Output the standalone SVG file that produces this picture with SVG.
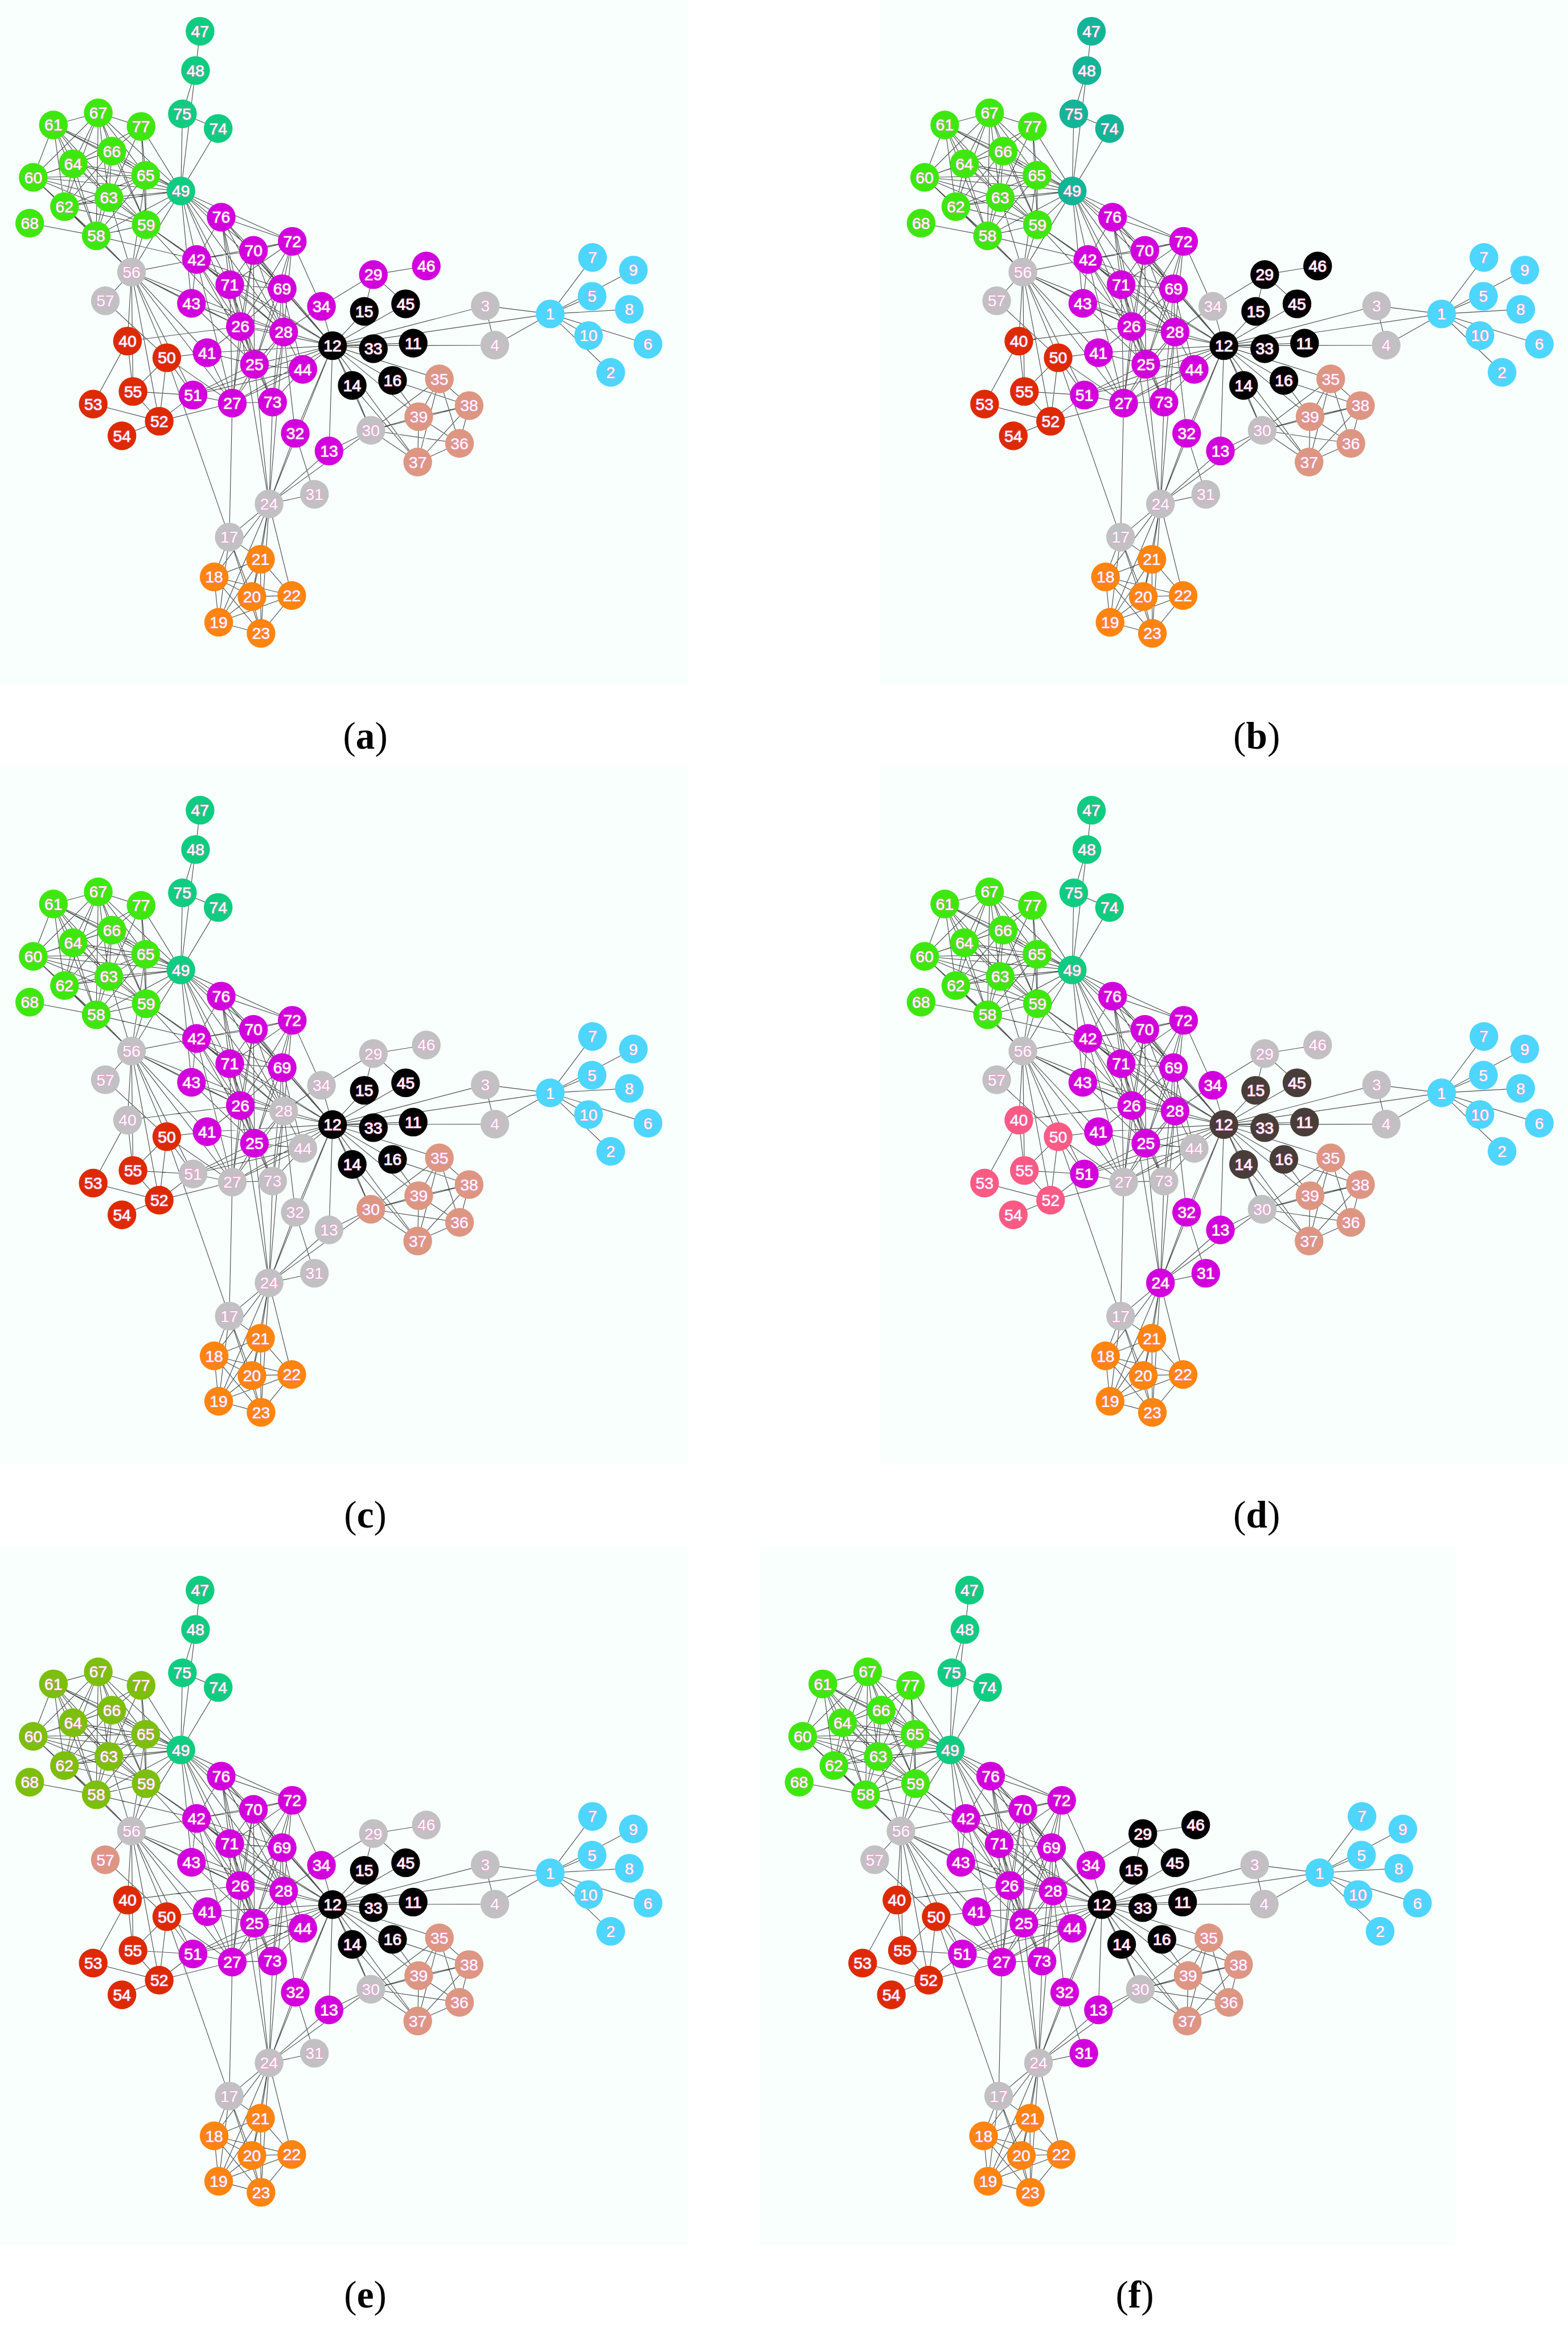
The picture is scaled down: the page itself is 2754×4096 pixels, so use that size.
<svg xmlns="http://www.w3.org/2000/svg" width="2754" height="4096" viewBox="0 0 2754 4096">
<style>
.bg{fill:#f8fffc}
.e{fill:none;stroke:#505050;stroke-width:1.3}
.nodes text{font-family:"Liberation Sans",Arial,sans-serif;font-size:32px;fill:#fff;stroke:#f49ad8;stroke-width:1.8px;paint-order:stroke;text-anchor:middle;dominant-baseline:central}
.lab{font-family:"Liberation Serif","Times New Roman",serif;font-size:76px;fill:#000;text-anchor:middle}
.cy{fill:#4dd6ff}.gn{fill:#3ee80f}.ol{fill:#7cbf0c}.tl{fill:#0fcc80}.td{fill:#13b596}.mg{fill:#d200dc}.bk{fill:#000}.br{fill:#483d38}.gy{fill:#c2c0c2}.rd{fill:#de2a00}.pk{fill:#fb5a84}.or{fill:#ff8410}.sl{fill:#dd9682}
</style>
<defs>
<path id="E" class="e" d="M1092 623L1176 511M1092 623L1175 588M1092 623L1257 536M1092 623L1249 614M1092 623L1168 666M1092 623L1286 683M1092 623L1212 739M1092 623L963 607M1092 623L982 685M1092 623L660 686M963 607L982 685M963 607L660 686M982 685L660 686M660 686L723 618M660 686L805 603M660 686L741 692M660 686L820 681M660 686L699 765M660 686L779 755M723 618L741 545M741 545L805 603M741 545L846 528M741 545L638 608M660 686L872 752M779 755L931 805M779 755L831 827M660 686L831 827M660 686L736 854M699 765L736 854M660 686L829 917M699 765L829 917M660 686L653 895M653 895L736 854M736 854L872 752M736 854L831 827M736 854L931 805M736 854L912 880M736 854L829 917M872 752L831 827M872 752L829 917M872 752L912 880M872 752L931 805M931 805L831 827M931 805L912 880M931 805L829 917M831 827L912 880M831 827L829 917M912 880L829 917M653 895L534 1000M736 854L534 1000M586 860L660 686M586 860L534 1000M586 860L624 981M586 860L563 659M534 1000L660 686M534 1000L624 981M534 1000L455 1066M534 1000L517 1110M534 1000L425 1145M534 1000L434 1235M534 1000L500 1184M534 1000L579 1182M534 1000L518 1257M534 1000L505 723M534 1000L477 648M534 1000L541 798M534 1000L563 659M455 1066L425 1145M455 1066L434 1235M455 1066L500 1184M455 1066L517 1110M455 1066L518 1257M517 1110L425 1145M517 1110L500 1184M517 1110L434 1235M517 1110L579 1182M517 1110L518 1257M425 1145L500 1184M425 1145L579 1182M425 1145L434 1235M425 1145L518 1257M500 1184L579 1182M500 1184L434 1235M500 1184L518 1257M579 1182L434 1235M579 1182L518 1257M434 1235L518 1257M461 800L455 1066M331 710L455 1066M359 379L439 431M359 379L580 479M359 379L503 497M359 379L560 573M359 379L456 565M359 379L390 515M359 379L380 602M359 379L477 648M359 379L563 659M439 431L580 479M439 431L503 497M439 431L456 565M439 431L560 573M439 431L390 515M439 431L477 648M439 431L563 659M439 431L505 723M439 431L660 686M580 479L503 497M580 479L390 515M580 479L456 565M580 479L560 573M580 479L563 659M580 479L477 648M580 479L505 723M580 479L638 608M503 497L390 515M503 497L456 565M503 497L560 573M503 497L563 659M503 497L477 648M503 497L505 723M503 497L660 686M503 497L461 800M390 515L456 565M390 515L560 573M390 515L563 659M390 515L477 648M390 515L380 602M390 515L505 723M390 515L261 540M390 515L191 468M390 515L660 686M390 515L461 800M456 565L560 573M456 565L563 659M456 565L477 648M456 565L505 723M456 565L660 686M456 565L461 800M456 565L541 798M560 573L563 659M560 573L477 648M560 573L505 723M560 573L660 686M560 573L601 733M560 573L541 798M380 602L477 648M380 602L505 723M380 602L563 659M380 602L261 540M477 648L563 659M477 648L505 723M477 648L660 686M477 648L461 800M477 648L411 700M477 648L253 677M477 648L541 798M563 659L660 686M563 659L505 723M563 659L601 733M563 659L541 798M563 659L461 800M563 659L638 608M505 723L660 686M505 723L461 800M505 723L541 798M505 723L601 733M505 723L411 700M505 723L383 784M601 733L660 686M601 733L461 800M601 733L541 798M601 733L383 784M461 800L660 686M461 800L541 798M461 800L383 784M461 800L316 836M461 800L411 700M461 800L261 540M638 608L660 686M411 700L660 686M411 700L331 710M383 784L660 686M383 784L331 710M383 784L264 777M383 784L316 836M383 784L261 540M261 540L209 597M261 540L253 677M261 540L264 777M261 540L331 710M261 540L316 836M261 540L411 700M261 540L477 648M261 540L563 659M253 677L185 802M253 677L264 777M209 597L331 710M331 710L264 777M331 710L316 836M331 710L461 800M264 777L316 836M185 802L316 836M242 865L316 836M397 62L388 140M388 140L362 226M388 140L359 379M362 226L359 379M362 226L433 255M433 255L359 379M106 248L195 224M106 248L66 352M106 248L145 325M106 248L222 300M106 248L128 410M106 248L216 392M106 248L289 348M106 248L359 379M106 248L191 468M106 248L290 446M195 224L280 251M195 224L145 325M195 224L222 300M195 224L66 352M195 224L128 410M195 224L216 392M195 224L289 348M195 224L290 446M195 224L359 379M195 224L191 468M280 251L222 300M280 251L145 325M280 251L289 348M280 251L290 446M280 251L359 379M280 251L216 392M222 300L145 325M222 300L66 352M222 300L289 348M222 300L216 392M222 300L128 410M222 300L290 446M222 300L191 468M222 300L359 379M145 325L66 352M145 325L289 348M145 325L216 392M145 325L128 410M145 325L191 468M145 325L290 446M145 325L359 379M66 352L289 348M66 352L216 392M66 352L128 410M66 352L290 446M66 352L359 379M66 352L191 468M66 352L261 540M289 348L216 392M289 348L359 379M289 348L290 446M289 348L128 410M289 348L191 468M289 348L261 540M216 392L128 410M216 392L290 446M216 392L191 468M216 392L359 379M216 392L261 540M128 410L191 468M128 410L290 446M128 410L359 379M128 410L261 540M59 443L191 468M191 468L290 446M191 468L359 379M191 468L261 540M290 446L359 379M290 446L261 540M290 446L390 515M290 446L456 565M290 446L477 648M359 379L261 540"/>
</defs>
<rect width="2754" height="4096" fill="#fff"/>
<g transform="scale(0.885)">
<g id="panel-a">
<rect class="bg" x="-22" y="-25" width="1388" height="1384"/>
<g id="connectors-a"><use href="#E"/></g>
<g class="nodes">
<g id="a1" class="cy"><circle cx="1092" cy="623" r="28.5"/><text x="1092" y="623">1</text></g>
<g id="a2" class="cy"><circle cx="1212" cy="739" r="28.5"/><text x="1212" y="739">2</text></g>
<g id="a3" class="gy"><circle cx="963" cy="607" r="28.5"/><text x="963" y="607">3</text></g>
<g id="a4" class="gy"><circle cx="982" cy="685" r="28.5"/><text x="982" y="685">4</text></g>
<g id="a5" class="cy"><circle cx="1175" cy="588" r="28.5"/><text x="1175" y="588">5</text></g>
<g id="a6" class="cy"><circle cx="1286" cy="683" r="28.5"/><text x="1286" y="683">6</text></g>
<g id="a7" class="cy"><circle cx="1176" cy="511" r="28.5"/><text x="1176" y="511">7</text></g>
<g id="a8" class="cy"><circle cx="1249" cy="614" r="28.5"/><text x="1249" y="614">8</text></g>
<g id="a9" class="cy"><circle cx="1257" cy="536" r="28.5"/><text x="1257" y="536">9</text></g>
<g id="a10" class="cy"><circle cx="1168" cy="666" r="28.5"/><text x="1168" y="666">10</text></g>
<g id="a11" class="bk"><circle cx="820" cy="681" r="28.5"/><text x="820" y="681">11</text></g>
<g id="a12" class="bk"><circle cx="660" cy="686" r="28.5"/><text x="660" y="686">12</text></g>
<g id="a13" class="mg"><circle cx="653" cy="895" r="28.5"/><text x="653" y="895">13</text></g>
<g id="a14" class="bk"><circle cx="699" cy="765" r="28.5"/><text x="699" y="765">14</text></g>
<g id="a15" class="bk"><circle cx="723" cy="618" r="28.5"/><text x="723" y="618">15</text></g>
<g id="a16" class="bk"><circle cx="779" cy="755" r="28.5"/><text x="779" y="755">16</text></g>
<g id="a17" class="gy"><circle cx="455" cy="1066" r="28.5"/><text x="455" y="1066">17</text></g>
<g id="a18" class="or"><circle cx="425" cy="1145" r="28.5"/><text x="425" y="1145">18</text></g>
<g id="a19" class="or"><circle cx="434" cy="1235" r="28.5"/><text x="434" y="1235">19</text></g>
<g id="a20" class="or"><circle cx="500" cy="1184" r="28.5"/><text x="500" y="1184">20</text></g>
<g id="a21" class="or"><circle cx="517" cy="1110" r="28.5"/><text x="517" y="1110">21</text></g>
<g id="a22" class="or"><circle cx="579" cy="1182" r="28.5"/><text x="579" y="1182">22</text></g>
<g id="a23" class="or"><circle cx="518" cy="1257" r="28.5"/><text x="518" y="1257">23</text></g>
<g id="a24" class="gy"><circle cx="534" cy="1000" r="28.5"/><text x="534" y="1000">24</text></g>
<g id="a25" class="mg"><circle cx="505" cy="723" r="28.5"/><text x="505" y="723">25</text></g>
<g id="a26" class="mg"><circle cx="477" cy="648" r="28.5"/><text x="477" y="648">26</text></g>
<g id="a27" class="mg"><circle cx="461" cy="800" r="28.5"/><text x="461" y="800">27</text></g>
<g id="a28" class="mg"><circle cx="563" cy="659" r="28.5"/><text x="563" y="659">28</text></g>
<g id="a29" class="mg"><circle cx="741" cy="545" r="28.5"/><text x="741" y="545">29</text></g>
<g id="a30" class="gy"><circle cx="736" cy="854" r="28.5"/><text x="736" y="854">30</text></g>
<g id="a31" class="gy"><circle cx="624" cy="981" r="28.5"/><text x="624" y="981">31</text></g>
<g id="a32" class="mg"><circle cx="586" cy="860" r="28.5"/><text x="586" y="860">32</text></g>
<g id="a33" class="bk"><circle cx="741" cy="692" r="28.5"/><text x="741" y="692">33</text></g>
<g id="a34" class="mg"><circle cx="638" cy="608" r="28.5"/><text x="638" y="608">34</text></g>
<g id="a35" class="sl"><circle cx="872" cy="752" r="28.5"/><text x="872" y="752">35</text></g>
<g id="a36" class="sl"><circle cx="912" cy="880" r="28.5"/><text x="912" y="880">36</text></g>
<g id="a37" class="sl"><circle cx="829" cy="917" r="28.5"/><text x="829" y="917">37</text></g>
<g id="a38" class="sl"><circle cx="931" cy="805" r="28.5"/><text x="931" y="805">38</text></g>
<g id="a39" class="sl"><circle cx="831" cy="827" r="28.5"/><text x="831" y="827">39</text></g>
<g id="a40" class="rd"><circle cx="253" cy="677" r="28.5"/><text x="253" y="677">40</text></g>
<g id="a41" class="mg"><circle cx="411" cy="700" r="28.5"/><text x="411" y="700">41</text></g>
<g id="a42" class="mg"><circle cx="390" cy="515" r="28.5"/><text x="390" y="515">42</text></g>
<g id="a43" class="mg"><circle cx="380" cy="602" r="28.5"/><text x="380" y="602">43</text></g>
<g id="a44" class="mg"><circle cx="601" cy="733" r="28.5"/><text x="601" y="733">44</text></g>
<g id="a45" class="bk"><circle cx="805" cy="603" r="28.5"/><text x="805" y="603">45</text></g>
<g id="a46" class="mg"><circle cx="846" cy="528" r="28.5"/><text x="846" y="528">46</text></g>
<g id="a47" class="tl"><circle cx="397" cy="62" r="28.5"/><text x="397" y="62">47</text></g>
<g id="a48" class="tl"><circle cx="388" cy="140" r="28.5"/><text x="388" y="140">48</text></g>
<g id="a49" class="tl"><circle cx="359" cy="379" r="28.5"/><text x="359" y="379">49</text></g>
<g id="a50" class="rd"><circle cx="331" cy="710" r="28.5"/><text x="331" y="710">50</text></g>
<g id="a51" class="mg"><circle cx="383" cy="784" r="28.5"/><text x="383" y="784">51</text></g>
<g id="a52" class="rd"><circle cx="316" cy="836" r="28.5"/><text x="316" y="836">52</text></g>
<g id="a53" class="rd"><circle cx="185" cy="802" r="28.5"/><text x="185" y="802">53</text></g>
<g id="a54" class="rd"><circle cx="242" cy="865" r="28.5"/><text x="242" y="865">54</text></g>
<g id="a55" class="rd"><circle cx="264" cy="777" r="28.5"/><text x="264" y="777">55</text></g>
<g id="a56" class="gy"><circle cx="261" cy="540" r="28.5"/><text x="261" y="540">56</text></g>
<g id="a57" class="gy"><circle cx="209" cy="597" r="28.5"/><text x="209" y="597">57</text></g>
<g id="a58" class="gn"><circle cx="191" cy="468" r="28.5"/><text x="191" y="468">58</text></g>
<g id="a59" class="gn"><circle cx="290" cy="446" r="28.5"/><text x="290" y="446">59</text></g>
<g id="a60" class="gn"><circle cx="66" cy="352" r="28.5"/><text x="66" y="352">60</text></g>
<g id="a61" class="gn"><circle cx="106" cy="248" r="28.5"/><text x="106" y="248">61</text></g>
<g id="a62" class="gn"><circle cx="128" cy="410" r="28.5"/><text x="128" y="410">62</text></g>
<g id="a63" class="gn"><circle cx="216" cy="392" r="28.5"/><text x="216" y="392">63</text></g>
<g id="a64" class="gn"><circle cx="145" cy="325" r="28.5"/><text x="145" y="325">64</text></g>
<g id="a65" class="gn"><circle cx="289" cy="348" r="28.5"/><text x="289" y="348">65</text></g>
<g id="a66" class="gn"><circle cx="222" cy="300" r="28.5"/><text x="222" y="300">66</text></g>
<g id="a67" class="gn"><circle cx="195" cy="224" r="28.5"/><text x="195" y="224">67</text></g>
<g id="a68" class="gn"><circle cx="59" cy="443" r="28.5"/><text x="59" y="443">68</text></g>
<g id="a69" class="mg"><circle cx="560" cy="573" r="28.5"/><text x="560" y="573">69</text></g>
<g id="a70" class="mg"><circle cx="503" cy="497" r="28.5"/><text x="503" y="497">70</text></g>
<g id="a71" class="mg"><circle cx="456" cy="565" r="28.5"/><text x="456" y="565">71</text></g>
<g id="a72" class="mg"><circle cx="580" cy="479" r="28.5"/><text x="580" y="479">72</text></g>
<g id="a73" class="mg"><circle cx="541" cy="798" r="28.5"/><text x="541" y="798">73</text></g>
<g id="a74" class="tl"><circle cx="433" cy="255" r="28.5"/><text x="433" y="255">74</text></g>
<g id="a75" class="tl"><circle cx="362" cy="226" r="28.5"/><text x="362" y="226">75</text></g>
<g id="a76" class="mg"><circle cx="439" cy="431" r="28.5"/><text x="439" y="431">76</text></g>
<g id="a77" class="gn"><circle cx="280" cy="251" r="28.5"/><text x="280" y="251">77</text></g>
</g>
<text class="lab" x="725" y="1486">(<tspan font-weight="bold">a</tspan>)</text>
</g>
<g id="panel-b" transform="translate(1769,0)">
<rect class="bg" x="-22" y="-25" width="1388" height="1384"/>
<g id="connectors-b"><use href="#E"/></g>
<g class="nodes">
<g id="b1" class="cy"><circle cx="1092" cy="623" r="28.5"/><text x="1092" y="623">1</text></g>
<g id="b2" class="cy"><circle cx="1212" cy="739" r="28.5"/><text x="1212" y="739">2</text></g>
<g id="b3" class="gy"><circle cx="963" cy="607" r="28.5"/><text x="963" y="607">3</text></g>
<g id="b4" class="gy"><circle cx="982" cy="685" r="28.5"/><text x="982" y="685">4</text></g>
<g id="b5" class="cy"><circle cx="1175" cy="588" r="28.5"/><text x="1175" y="588">5</text></g>
<g id="b6" class="cy"><circle cx="1286" cy="683" r="28.5"/><text x="1286" y="683">6</text></g>
<g id="b7" class="cy"><circle cx="1176" cy="511" r="28.5"/><text x="1176" y="511">7</text></g>
<g id="b8" class="cy"><circle cx="1249" cy="614" r="28.5"/><text x="1249" y="614">8</text></g>
<g id="b9" class="cy"><circle cx="1257" cy="536" r="28.5"/><text x="1257" y="536">9</text></g>
<g id="b10" class="cy"><circle cx="1168" cy="666" r="28.5"/><text x="1168" y="666">10</text></g>
<g id="b11" class="bk"><circle cx="820" cy="681" r="28.5"/><text x="820" y="681">11</text></g>
<g id="b12" class="bk"><circle cx="660" cy="686" r="28.5"/><text x="660" y="686">12</text></g>
<g id="b13" class="mg"><circle cx="653" cy="895" r="28.5"/><text x="653" y="895">13</text></g>
<g id="b14" class="bk"><circle cx="699" cy="765" r="28.5"/><text x="699" y="765">14</text></g>
<g id="b15" class="bk"><circle cx="723" cy="618" r="28.5"/><text x="723" y="618">15</text></g>
<g id="b16" class="bk"><circle cx="779" cy="755" r="28.5"/><text x="779" y="755">16</text></g>
<g id="b17" class="gy"><circle cx="455" cy="1066" r="28.5"/><text x="455" y="1066">17</text></g>
<g id="b18" class="or"><circle cx="425" cy="1145" r="28.5"/><text x="425" y="1145">18</text></g>
<g id="b19" class="or"><circle cx="434" cy="1235" r="28.5"/><text x="434" y="1235">19</text></g>
<g id="b20" class="or"><circle cx="500" cy="1184" r="28.5"/><text x="500" y="1184">20</text></g>
<g id="b21" class="or"><circle cx="517" cy="1110" r="28.5"/><text x="517" y="1110">21</text></g>
<g id="b22" class="or"><circle cx="579" cy="1182" r="28.5"/><text x="579" y="1182">22</text></g>
<g id="b23" class="or"><circle cx="518" cy="1257" r="28.5"/><text x="518" y="1257">23</text></g>
<g id="b24" class="gy"><circle cx="534" cy="1000" r="28.5"/><text x="534" y="1000">24</text></g>
<g id="b25" class="mg"><circle cx="505" cy="723" r="28.5"/><text x="505" y="723">25</text></g>
<g id="b26" class="mg"><circle cx="477" cy="648" r="28.5"/><text x="477" y="648">26</text></g>
<g id="b27" class="mg"><circle cx="461" cy="800" r="28.5"/><text x="461" y="800">27</text></g>
<g id="b28" class="mg"><circle cx="563" cy="659" r="28.5"/><text x="563" y="659">28</text></g>
<g id="b29" class="bk"><circle cx="741" cy="545" r="28.5"/><text x="741" y="545">29</text></g>
<g id="b30" class="gy"><circle cx="736" cy="854" r="28.5"/><text x="736" y="854">30</text></g>
<g id="b31" class="gy"><circle cx="624" cy="981" r="28.5"/><text x="624" y="981">31</text></g>
<g id="b32" class="mg"><circle cx="586" cy="860" r="28.5"/><text x="586" y="860">32</text></g>
<g id="b33" class="bk"><circle cx="741" cy="692" r="28.5"/><text x="741" y="692">33</text></g>
<g id="b34" class="gy"><circle cx="638" cy="608" r="28.5"/><text x="638" y="608">34</text></g>
<g id="b35" class="sl"><circle cx="872" cy="752" r="28.5"/><text x="872" y="752">35</text></g>
<g id="b36" class="sl"><circle cx="912" cy="880" r="28.5"/><text x="912" y="880">36</text></g>
<g id="b37" class="sl"><circle cx="829" cy="917" r="28.5"/><text x="829" y="917">37</text></g>
<g id="b38" class="sl"><circle cx="931" cy="805" r="28.5"/><text x="931" y="805">38</text></g>
<g id="b39" class="sl"><circle cx="831" cy="827" r="28.5"/><text x="831" y="827">39</text></g>
<g id="b40" class="rd"><circle cx="253" cy="677" r="28.5"/><text x="253" y="677">40</text></g>
<g id="b41" class="mg"><circle cx="411" cy="700" r="28.5"/><text x="411" y="700">41</text></g>
<g id="b42" class="mg"><circle cx="390" cy="515" r="28.5"/><text x="390" y="515">42</text></g>
<g id="b43" class="mg"><circle cx="380" cy="602" r="28.5"/><text x="380" y="602">43</text></g>
<g id="b44" class="mg"><circle cx="601" cy="733" r="28.5"/><text x="601" y="733">44</text></g>
<g id="b45" class="bk"><circle cx="805" cy="603" r="28.5"/><text x="805" y="603">45</text></g>
<g id="b46" class="bk"><circle cx="846" cy="528" r="28.5"/><text x="846" y="528">46</text></g>
<g id="b47" class="td"><circle cx="397" cy="62" r="28.5"/><text x="397" y="62">47</text></g>
<g id="b48" class="td"><circle cx="388" cy="140" r="28.5"/><text x="388" y="140">48</text></g>
<g id="b49" class="td"><circle cx="359" cy="379" r="28.5"/><text x="359" y="379">49</text></g>
<g id="b50" class="rd"><circle cx="331" cy="710" r="28.5"/><text x="331" y="710">50</text></g>
<g id="b51" class="mg"><circle cx="383" cy="784" r="28.5"/><text x="383" y="784">51</text></g>
<g id="b52" class="rd"><circle cx="316" cy="836" r="28.5"/><text x="316" y="836">52</text></g>
<g id="b53" class="rd"><circle cx="185" cy="802" r="28.5"/><text x="185" y="802">53</text></g>
<g id="b54" class="rd"><circle cx="242" cy="865" r="28.5"/><text x="242" y="865">54</text></g>
<g id="b55" class="rd"><circle cx="264" cy="777" r="28.5"/><text x="264" y="777">55</text></g>
<g id="b56" class="gy"><circle cx="261" cy="540" r="28.5"/><text x="261" y="540">56</text></g>
<g id="b57" class="gy"><circle cx="209" cy="597" r="28.5"/><text x="209" y="597">57</text></g>
<g id="b58" class="gn"><circle cx="191" cy="468" r="28.5"/><text x="191" y="468">58</text></g>
<g id="b59" class="gn"><circle cx="290" cy="446" r="28.5"/><text x="290" y="446">59</text></g>
<g id="b60" class="gn"><circle cx="66" cy="352" r="28.5"/><text x="66" y="352">60</text></g>
<g id="b61" class="gn"><circle cx="106" cy="248" r="28.5"/><text x="106" y="248">61</text></g>
<g id="b62" class="gn"><circle cx="128" cy="410" r="28.5"/><text x="128" y="410">62</text></g>
<g id="b63" class="gn"><circle cx="216" cy="392" r="28.5"/><text x="216" y="392">63</text></g>
<g id="b64" class="gn"><circle cx="145" cy="325" r="28.5"/><text x="145" y="325">64</text></g>
<g id="b65" class="gn"><circle cx="289" cy="348" r="28.5"/><text x="289" y="348">65</text></g>
<g id="b66" class="gn"><circle cx="222" cy="300" r="28.5"/><text x="222" y="300">66</text></g>
<g id="b67" class="gn"><circle cx="195" cy="224" r="28.5"/><text x="195" y="224">67</text></g>
<g id="b68" class="gn"><circle cx="59" cy="443" r="28.5"/><text x="59" y="443">68</text></g>
<g id="b69" class="mg"><circle cx="560" cy="573" r="28.5"/><text x="560" y="573">69</text></g>
<g id="b70" class="mg"><circle cx="503" cy="497" r="28.5"/><text x="503" y="497">70</text></g>
<g id="b71" class="mg"><circle cx="456" cy="565" r="28.5"/><text x="456" y="565">71</text></g>
<g id="b72" class="mg"><circle cx="580" cy="479" r="28.5"/><text x="580" y="479">72</text></g>
<g id="b73" class="mg"><circle cx="541" cy="798" r="28.5"/><text x="541" y="798">73</text></g>
<g id="b74" class="td"><circle cx="433" cy="255" r="28.5"/><text x="433" y="255">74</text></g>
<g id="b75" class="td"><circle cx="362" cy="226" r="28.5"/><text x="362" y="226">75</text></g>
<g id="b76" class="mg"><circle cx="439" cy="431" r="28.5"/><text x="439" y="431">76</text></g>
<g id="b77" class="gn"><circle cx="280" cy="251" r="28.5"/><text x="280" y="251">77</text></g>
</g>
<text class="lab" x="725" y="1486">(<tspan font-weight="bold">b</tspan>)</text>
</g>
<g id="panel-c" transform="translate(0,1546)">
<rect class="bg" x="-22" y="-25" width="1388" height="1384"/>
<g id="connectors-c"><use href="#E"/></g>
<g class="nodes">
<g id="c1" class="cy"><circle cx="1092" cy="623" r="28.5"/><text x="1092" y="623">1</text></g>
<g id="c2" class="cy"><circle cx="1212" cy="739" r="28.5"/><text x="1212" y="739">2</text></g>
<g id="c3" class="gy"><circle cx="963" cy="607" r="28.5"/><text x="963" y="607">3</text></g>
<g id="c4" class="gy"><circle cx="982" cy="685" r="28.5"/><text x="982" y="685">4</text></g>
<g id="c5" class="cy"><circle cx="1175" cy="588" r="28.5"/><text x="1175" y="588">5</text></g>
<g id="c6" class="cy"><circle cx="1286" cy="683" r="28.5"/><text x="1286" y="683">6</text></g>
<g id="c7" class="cy"><circle cx="1176" cy="511" r="28.5"/><text x="1176" y="511">7</text></g>
<g id="c8" class="cy"><circle cx="1249" cy="614" r="28.5"/><text x="1249" y="614">8</text></g>
<g id="c9" class="cy"><circle cx="1257" cy="536" r="28.5"/><text x="1257" y="536">9</text></g>
<g id="c10" class="cy"><circle cx="1168" cy="666" r="28.5"/><text x="1168" y="666">10</text></g>
<g id="c11" class="bk"><circle cx="820" cy="681" r="28.5"/><text x="820" y="681">11</text></g>
<g id="c12" class="bk"><circle cx="660" cy="686" r="28.5"/><text x="660" y="686">12</text></g>
<g id="c13" class="gy"><circle cx="653" cy="895" r="28.5"/><text x="653" y="895">13</text></g>
<g id="c14" class="bk"><circle cx="699" cy="765" r="28.5"/><text x="699" y="765">14</text></g>
<g id="c15" class="bk"><circle cx="723" cy="618" r="28.5"/><text x="723" y="618">15</text></g>
<g id="c16" class="bk"><circle cx="779" cy="755" r="28.5"/><text x="779" y="755">16</text></g>
<g id="c17" class="gy"><circle cx="455" cy="1066" r="28.5"/><text x="455" y="1066">17</text></g>
<g id="c18" class="or"><circle cx="425" cy="1145" r="28.5"/><text x="425" y="1145">18</text></g>
<g id="c19" class="or"><circle cx="434" cy="1235" r="28.5"/><text x="434" y="1235">19</text></g>
<g id="c20" class="or"><circle cx="500" cy="1184" r="28.5"/><text x="500" y="1184">20</text></g>
<g id="c21" class="or"><circle cx="517" cy="1110" r="28.5"/><text x="517" y="1110">21</text></g>
<g id="c22" class="or"><circle cx="579" cy="1182" r="28.5"/><text x="579" y="1182">22</text></g>
<g id="c23" class="or"><circle cx="518" cy="1257" r="28.5"/><text x="518" y="1257">23</text></g>
<g id="c24" class="gy"><circle cx="534" cy="1000" r="28.5"/><text x="534" y="1000">24</text></g>
<g id="c25" class="mg"><circle cx="505" cy="723" r="28.5"/><text x="505" y="723">25</text></g>
<g id="c26" class="mg"><circle cx="477" cy="648" r="28.5"/><text x="477" y="648">26</text></g>
<g id="c27" class="gy"><circle cx="461" cy="800" r="28.5"/><text x="461" y="800">27</text></g>
<g id="c28" class="gy"><circle cx="563" cy="659" r="28.5"/><text x="563" y="659">28</text></g>
<g id="c29" class="gy"><circle cx="741" cy="545" r="28.5"/><text x="741" y="545">29</text></g>
<g id="c30" class="sl"><circle cx="736" cy="854" r="28.5"/><text x="736" y="854">30</text></g>
<g id="c31" class="gy"><circle cx="624" cy="981" r="28.5"/><text x="624" y="981">31</text></g>
<g id="c32" class="gy"><circle cx="586" cy="860" r="28.5"/><text x="586" y="860">32</text></g>
<g id="c33" class="bk"><circle cx="741" cy="692" r="28.5"/><text x="741" y="692">33</text></g>
<g id="c34" class="gy"><circle cx="638" cy="608" r="28.5"/><text x="638" y="608">34</text></g>
<g id="c35" class="sl"><circle cx="872" cy="752" r="28.5"/><text x="872" y="752">35</text></g>
<g id="c36" class="sl"><circle cx="912" cy="880" r="28.5"/><text x="912" y="880">36</text></g>
<g id="c37" class="sl"><circle cx="829" cy="917" r="28.5"/><text x="829" y="917">37</text></g>
<g id="c38" class="sl"><circle cx="931" cy="805" r="28.5"/><text x="931" y="805">38</text></g>
<g id="c39" class="sl"><circle cx="831" cy="827" r="28.5"/><text x="831" y="827">39</text></g>
<g id="c40" class="gy"><circle cx="253" cy="677" r="28.5"/><text x="253" y="677">40</text></g>
<g id="c41" class="mg"><circle cx="411" cy="700" r="28.5"/><text x="411" y="700">41</text></g>
<g id="c42" class="mg"><circle cx="390" cy="515" r="28.5"/><text x="390" y="515">42</text></g>
<g id="c43" class="mg"><circle cx="380" cy="602" r="28.5"/><text x="380" y="602">43</text></g>
<g id="c44" class="gy"><circle cx="601" cy="733" r="28.5"/><text x="601" y="733">44</text></g>
<g id="c45" class="bk"><circle cx="805" cy="603" r="28.5"/><text x="805" y="603">45</text></g>
<g id="c46" class="gy"><circle cx="846" cy="528" r="28.5"/><text x="846" y="528">46</text></g>
<g id="c47" class="tl"><circle cx="397" cy="62" r="28.5"/><text x="397" y="62">47</text></g>
<g id="c48" class="tl"><circle cx="388" cy="140" r="28.5"/><text x="388" y="140">48</text></g>
<g id="c49" class="tl"><circle cx="359" cy="379" r="28.5"/><text x="359" y="379">49</text></g>
<g id="c50" class="rd"><circle cx="331" cy="710" r="28.5"/><text x="331" y="710">50</text></g>
<g id="c51" class="gy"><circle cx="383" cy="784" r="28.5"/><text x="383" y="784">51</text></g>
<g id="c52" class="rd"><circle cx="316" cy="836" r="28.5"/><text x="316" y="836">52</text></g>
<g id="c53" class="rd"><circle cx="185" cy="802" r="28.5"/><text x="185" y="802">53</text></g>
<g id="c54" class="rd"><circle cx="242" cy="865" r="28.5"/><text x="242" y="865">54</text></g>
<g id="c55" class="rd"><circle cx="264" cy="777" r="28.5"/><text x="264" y="777">55</text></g>
<g id="c56" class="gy"><circle cx="261" cy="540" r="28.5"/><text x="261" y="540">56</text></g>
<g id="c57" class="gy"><circle cx="209" cy="597" r="28.5"/><text x="209" y="597">57</text></g>
<g id="c58" class="gn"><circle cx="191" cy="468" r="28.5"/><text x="191" y="468">58</text></g>
<g id="c59" class="gn"><circle cx="290" cy="446" r="28.5"/><text x="290" y="446">59</text></g>
<g id="c60" class="gn"><circle cx="66" cy="352" r="28.5"/><text x="66" y="352">60</text></g>
<g id="c61" class="gn"><circle cx="106" cy="248" r="28.5"/><text x="106" y="248">61</text></g>
<g id="c62" class="gn"><circle cx="128" cy="410" r="28.5"/><text x="128" y="410">62</text></g>
<g id="c63" class="gn"><circle cx="216" cy="392" r="28.5"/><text x="216" y="392">63</text></g>
<g id="c64" class="gn"><circle cx="145" cy="325" r="28.5"/><text x="145" y="325">64</text></g>
<g id="c65" class="gn"><circle cx="289" cy="348" r="28.5"/><text x="289" y="348">65</text></g>
<g id="c66" class="gn"><circle cx="222" cy="300" r="28.5"/><text x="222" y="300">66</text></g>
<g id="c67" class="gn"><circle cx="195" cy="224" r="28.5"/><text x="195" y="224">67</text></g>
<g id="c68" class="gn"><circle cx="59" cy="443" r="28.5"/><text x="59" y="443">68</text></g>
<g id="c69" class="mg"><circle cx="560" cy="573" r="28.5"/><text x="560" y="573">69</text></g>
<g id="c70" class="mg"><circle cx="503" cy="497" r="28.5"/><text x="503" y="497">70</text></g>
<g id="c71" class="mg"><circle cx="456" cy="565" r="28.5"/><text x="456" y="565">71</text></g>
<g id="c72" class="mg"><circle cx="580" cy="479" r="28.5"/><text x="580" y="479">72</text></g>
<g id="c73" class="gy"><circle cx="541" cy="798" r="28.5"/><text x="541" y="798">73</text></g>
<g id="c74" class="tl"><circle cx="433" cy="255" r="28.5"/><text x="433" y="255">74</text></g>
<g id="c75" class="tl"><circle cx="362" cy="226" r="28.5"/><text x="362" y="226">75</text></g>
<g id="c76" class="mg"><circle cx="439" cy="431" r="28.5"/><text x="439" y="431">76</text></g>
<g id="c77" class="gn"><circle cx="280" cy="251" r="28.5"/><text x="280" y="251">77</text></g>
</g>
<text class="lab" x="725" y="1486">(<tspan font-weight="bold">c</tspan>)</text>
</g>
<g id="panel-d" transform="translate(1769,1546)">
<rect class="bg" x="-22" y="-25" width="1388" height="1384"/>
<g id="connectors-d"><use href="#E"/></g>
<g class="nodes">
<g id="d1" class="cy"><circle cx="1092" cy="623" r="28.5"/><text x="1092" y="623">1</text></g>
<g id="d2" class="cy"><circle cx="1212" cy="739" r="28.5"/><text x="1212" y="739">2</text></g>
<g id="d3" class="gy"><circle cx="963" cy="607" r="28.5"/><text x="963" y="607">3</text></g>
<g id="d4" class="gy"><circle cx="982" cy="685" r="28.5"/><text x="982" y="685">4</text></g>
<g id="d5" class="cy"><circle cx="1175" cy="588" r="28.5"/><text x="1175" y="588">5</text></g>
<g id="d6" class="cy"><circle cx="1286" cy="683" r="28.5"/><text x="1286" y="683">6</text></g>
<g id="d7" class="cy"><circle cx="1176" cy="511" r="28.5"/><text x="1176" y="511">7</text></g>
<g id="d8" class="cy"><circle cx="1249" cy="614" r="28.5"/><text x="1249" y="614">8</text></g>
<g id="d9" class="cy"><circle cx="1257" cy="536" r="28.5"/><text x="1257" y="536">9</text></g>
<g id="d10" class="cy"><circle cx="1168" cy="666" r="28.5"/><text x="1168" y="666">10</text></g>
<g id="d11" class="br"><circle cx="820" cy="681" r="28.5"/><text x="820" y="681">11</text></g>
<g id="d12" class="br"><circle cx="660" cy="686" r="28.5"/><text x="660" y="686">12</text></g>
<g id="d13" class="mg"><circle cx="653" cy="895" r="28.5"/><text x="653" y="895">13</text></g>
<g id="d14" class="br"><circle cx="699" cy="765" r="28.5"/><text x="699" y="765">14</text></g>
<g id="d15" class="br"><circle cx="723" cy="618" r="28.5"/><text x="723" y="618">15</text></g>
<g id="d16" class="br"><circle cx="779" cy="755" r="28.5"/><text x="779" y="755">16</text></g>
<g id="d17" class="gy"><circle cx="455" cy="1066" r="28.5"/><text x="455" y="1066">17</text></g>
<g id="d18" class="or"><circle cx="425" cy="1145" r="28.5"/><text x="425" y="1145">18</text></g>
<g id="d19" class="or"><circle cx="434" cy="1235" r="28.5"/><text x="434" y="1235">19</text></g>
<g id="d20" class="or"><circle cx="500" cy="1184" r="28.5"/><text x="500" y="1184">20</text></g>
<g id="d21" class="or"><circle cx="517" cy="1110" r="28.5"/><text x="517" y="1110">21</text></g>
<g id="d22" class="or"><circle cx="579" cy="1182" r="28.5"/><text x="579" y="1182">22</text></g>
<g id="d23" class="or"><circle cx="518" cy="1257" r="28.5"/><text x="518" y="1257">23</text></g>
<g id="d24" class="mg"><circle cx="534" cy="1000" r="28.5"/><text x="534" y="1000">24</text></g>
<g id="d25" class="mg"><circle cx="505" cy="723" r="28.5"/><text x="505" y="723">25</text></g>
<g id="d26" class="mg"><circle cx="477" cy="648" r="28.5"/><text x="477" y="648">26</text></g>
<g id="d27" class="gy"><circle cx="461" cy="800" r="28.5"/><text x="461" y="800">27</text></g>
<g id="d28" class="mg"><circle cx="563" cy="659" r="28.5"/><text x="563" y="659">28</text></g>
<g id="d29" class="gy"><circle cx="741" cy="545" r="28.5"/><text x="741" y="545">29</text></g>
<g id="d30" class="gy"><circle cx="736" cy="854" r="28.5"/><text x="736" y="854">30</text></g>
<g id="d31" class="mg"><circle cx="624" cy="981" r="28.5"/><text x="624" y="981">31</text></g>
<g id="d32" class="mg"><circle cx="586" cy="860" r="28.5"/><text x="586" y="860">32</text></g>
<g id="d33" class="br"><circle cx="741" cy="692" r="28.5"/><text x="741" y="692">33</text></g>
<g id="d34" class="mg"><circle cx="638" cy="608" r="28.5"/><text x="638" y="608">34</text></g>
<g id="d35" class="sl"><circle cx="872" cy="752" r="28.5"/><text x="872" y="752">35</text></g>
<g id="d36" class="sl"><circle cx="912" cy="880" r="28.5"/><text x="912" y="880">36</text></g>
<g id="d37" class="sl"><circle cx="829" cy="917" r="28.5"/><text x="829" y="917">37</text></g>
<g id="d38" class="sl"><circle cx="931" cy="805" r="28.5"/><text x="931" y="805">38</text></g>
<g id="d39" class="sl"><circle cx="831" cy="827" r="28.5"/><text x="831" y="827">39</text></g>
<g id="d40" class="pk"><circle cx="253" cy="677" r="28.5"/><text x="253" y="677">40</text></g>
<g id="d41" class="mg"><circle cx="411" cy="700" r="28.5"/><text x="411" y="700">41</text></g>
<g id="d42" class="mg"><circle cx="390" cy="515" r="28.5"/><text x="390" y="515">42</text></g>
<g id="d43" class="mg"><circle cx="380" cy="602" r="28.5"/><text x="380" y="602">43</text></g>
<g id="d44" class="gy"><circle cx="601" cy="733" r="28.5"/><text x="601" y="733">44</text></g>
<g id="d45" class="br"><circle cx="805" cy="603" r="28.5"/><text x="805" y="603">45</text></g>
<g id="d46" class="gy"><circle cx="846" cy="528" r="28.5"/><text x="846" y="528">46</text></g>
<g id="d47" class="tl"><circle cx="397" cy="62" r="28.5"/><text x="397" y="62">47</text></g>
<g id="d48" class="tl"><circle cx="388" cy="140" r="28.5"/><text x="388" y="140">48</text></g>
<g id="d49" class="tl"><circle cx="359" cy="379" r="28.5"/><text x="359" y="379">49</text></g>
<g id="d50" class="pk"><circle cx="331" cy="710" r="28.5"/><text x="331" y="710">50</text></g>
<g id="d51" class="mg"><circle cx="383" cy="784" r="28.5"/><text x="383" y="784">51</text></g>
<g id="d52" class="pk"><circle cx="316" cy="836" r="28.5"/><text x="316" y="836">52</text></g>
<g id="d53" class="pk"><circle cx="185" cy="802" r="28.5"/><text x="185" y="802">53</text></g>
<g id="d54" class="pk"><circle cx="242" cy="865" r="28.5"/><text x="242" y="865">54</text></g>
<g id="d55" class="pk"><circle cx="264" cy="777" r="28.5"/><text x="264" y="777">55</text></g>
<g id="d56" class="gy"><circle cx="261" cy="540" r="28.5"/><text x="261" y="540">56</text></g>
<g id="d57" class="gy"><circle cx="209" cy="597" r="28.5"/><text x="209" y="597">57</text></g>
<g id="d58" class="gn"><circle cx="191" cy="468" r="28.5"/><text x="191" y="468">58</text></g>
<g id="d59" class="gn"><circle cx="290" cy="446" r="28.5"/><text x="290" y="446">59</text></g>
<g id="d60" class="gn"><circle cx="66" cy="352" r="28.5"/><text x="66" y="352">60</text></g>
<g id="d61" class="gn"><circle cx="106" cy="248" r="28.5"/><text x="106" y="248">61</text></g>
<g id="d62" class="gn"><circle cx="128" cy="410" r="28.5"/><text x="128" y="410">62</text></g>
<g id="d63" class="gn"><circle cx="216" cy="392" r="28.5"/><text x="216" y="392">63</text></g>
<g id="d64" class="gn"><circle cx="145" cy="325" r="28.5"/><text x="145" y="325">64</text></g>
<g id="d65" class="gn"><circle cx="289" cy="348" r="28.5"/><text x="289" y="348">65</text></g>
<g id="d66" class="gn"><circle cx="222" cy="300" r="28.5"/><text x="222" y="300">66</text></g>
<g id="d67" class="gn"><circle cx="195" cy="224" r="28.5"/><text x="195" y="224">67</text></g>
<g id="d68" class="gn"><circle cx="59" cy="443" r="28.5"/><text x="59" y="443">68</text></g>
<g id="d69" class="mg"><circle cx="560" cy="573" r="28.5"/><text x="560" y="573">69</text></g>
<g id="d70" class="mg"><circle cx="503" cy="497" r="28.5"/><text x="503" y="497">70</text></g>
<g id="d71" class="mg"><circle cx="456" cy="565" r="28.5"/><text x="456" y="565">71</text></g>
<g id="d72" class="mg"><circle cx="580" cy="479" r="28.5"/><text x="580" y="479">72</text></g>
<g id="d73" class="gy"><circle cx="541" cy="798" r="28.5"/><text x="541" y="798">73</text></g>
<g id="d74" class="tl"><circle cx="433" cy="255" r="28.5"/><text x="433" y="255">74</text></g>
<g id="d75" class="tl"><circle cx="362" cy="226" r="28.5"/><text x="362" y="226">75</text></g>
<g id="d76" class="mg"><circle cx="439" cy="431" r="28.5"/><text x="439" y="431">76</text></g>
<g id="d77" class="gn"><circle cx="280" cy="251" r="28.5"/><text x="280" y="251">77</text></g>
</g>
<text class="lab" x="725" y="1486">(<tspan font-weight="bold">d</tspan>)</text>
</g>
<g id="panel-e" transform="translate(0,3094)">
<rect class="bg" x="-22" y="-25" width="1388" height="1387"/>
<g id="connectors-e"><use href="#E"/></g>
<g class="nodes">
<g id="e1" class="cy"><circle cx="1092" cy="623" r="28.5"/><text x="1092" y="623">1</text></g>
<g id="e2" class="cy"><circle cx="1212" cy="739" r="28.5"/><text x="1212" y="739">2</text></g>
<g id="e3" class="gy"><circle cx="963" cy="607" r="28.5"/><text x="963" y="607">3</text></g>
<g id="e4" class="gy"><circle cx="982" cy="685" r="28.5"/><text x="982" y="685">4</text></g>
<g id="e5" class="cy"><circle cx="1175" cy="588" r="28.5"/><text x="1175" y="588">5</text></g>
<g id="e6" class="cy"><circle cx="1286" cy="683" r="28.5"/><text x="1286" y="683">6</text></g>
<g id="e7" class="cy"><circle cx="1176" cy="511" r="28.5"/><text x="1176" y="511">7</text></g>
<g id="e8" class="cy"><circle cx="1249" cy="614" r="28.5"/><text x="1249" y="614">8</text></g>
<g id="e9" class="cy"><circle cx="1257" cy="536" r="28.5"/><text x="1257" y="536">9</text></g>
<g id="e10" class="cy"><circle cx="1168" cy="666" r="28.5"/><text x="1168" y="666">10</text></g>
<g id="e11" class="bk"><circle cx="820" cy="681" r="28.5"/><text x="820" y="681">11</text></g>
<g id="e12" class="bk"><circle cx="660" cy="686" r="28.5"/><text x="660" y="686">12</text></g>
<g id="e13" class="mg"><circle cx="653" cy="895" r="28.5"/><text x="653" y="895">13</text></g>
<g id="e14" class="bk"><circle cx="699" cy="765" r="28.5"/><text x="699" y="765">14</text></g>
<g id="e15" class="bk"><circle cx="723" cy="618" r="28.5"/><text x="723" y="618">15</text></g>
<g id="e16" class="bk"><circle cx="779" cy="755" r="28.5"/><text x="779" y="755">16</text></g>
<g id="e17" class="gy"><circle cx="455" cy="1066" r="28.5"/><text x="455" y="1066">17</text></g>
<g id="e18" class="or"><circle cx="425" cy="1145" r="28.5"/><text x="425" y="1145">18</text></g>
<g id="e19" class="or"><circle cx="434" cy="1235" r="28.5"/><text x="434" y="1235">19</text></g>
<g id="e20" class="or"><circle cx="500" cy="1184" r="28.5"/><text x="500" y="1184">20</text></g>
<g id="e21" class="or"><circle cx="517" cy="1110" r="28.5"/><text x="517" y="1110">21</text></g>
<g id="e22" class="or"><circle cx="579" cy="1182" r="28.5"/><text x="579" y="1182">22</text></g>
<g id="e23" class="or"><circle cx="518" cy="1257" r="28.5"/><text x="518" y="1257">23</text></g>
<g id="e24" class="gy"><circle cx="534" cy="1000" r="28.5"/><text x="534" y="1000">24</text></g>
<g id="e25" class="mg"><circle cx="505" cy="723" r="28.5"/><text x="505" y="723">25</text></g>
<g id="e26" class="mg"><circle cx="477" cy="648" r="28.5"/><text x="477" y="648">26</text></g>
<g id="e27" class="mg"><circle cx="461" cy="800" r="28.5"/><text x="461" y="800">27</text></g>
<g id="e28" class="mg"><circle cx="563" cy="659" r="28.5"/><text x="563" y="659">28</text></g>
<g id="e29" class="gy"><circle cx="741" cy="545" r="28.5"/><text x="741" y="545">29</text></g>
<g id="e30" class="gy"><circle cx="736" cy="854" r="28.5"/><text x="736" y="854">30</text></g>
<g id="e31" class="gy"><circle cx="624" cy="981" r="28.5"/><text x="624" y="981">31</text></g>
<g id="e32" class="mg"><circle cx="586" cy="860" r="28.5"/><text x="586" y="860">32</text></g>
<g id="e33" class="bk"><circle cx="741" cy="692" r="28.5"/><text x="741" y="692">33</text></g>
<g id="e34" class="mg"><circle cx="638" cy="608" r="28.5"/><text x="638" y="608">34</text></g>
<g id="e35" class="sl"><circle cx="872" cy="752" r="28.5"/><text x="872" y="752">35</text></g>
<g id="e36" class="sl"><circle cx="912" cy="880" r="28.5"/><text x="912" y="880">36</text></g>
<g id="e37" class="sl"><circle cx="829" cy="917" r="28.5"/><text x="829" y="917">37</text></g>
<g id="e38" class="sl"><circle cx="931" cy="805" r="28.5"/><text x="931" y="805">38</text></g>
<g id="e39" class="sl"><circle cx="831" cy="827" r="28.5"/><text x="831" y="827">39</text></g>
<g id="e40" class="rd"><circle cx="253" cy="677" r="28.5"/><text x="253" y="677">40</text></g>
<g id="e41" class="mg"><circle cx="411" cy="700" r="28.5"/><text x="411" y="700">41</text></g>
<g id="e42" class="mg"><circle cx="390" cy="515" r="28.5"/><text x="390" y="515">42</text></g>
<g id="e43" class="mg"><circle cx="380" cy="602" r="28.5"/><text x="380" y="602">43</text></g>
<g id="e44" class="mg"><circle cx="601" cy="733" r="28.5"/><text x="601" y="733">44</text></g>
<g id="e45" class="bk"><circle cx="805" cy="603" r="28.5"/><text x="805" y="603">45</text></g>
<g id="e46" class="gy"><circle cx="846" cy="528" r="28.5"/><text x="846" y="528">46</text></g>
<g id="e47" class="tl"><circle cx="397" cy="62" r="28.5"/><text x="397" y="62">47</text></g>
<g id="e48" class="tl"><circle cx="388" cy="140" r="28.5"/><text x="388" y="140">48</text></g>
<g id="e49" class="tl"><circle cx="359" cy="379" r="28.5"/><text x="359" y="379">49</text></g>
<g id="e50" class="rd"><circle cx="331" cy="710" r="28.5"/><text x="331" y="710">50</text></g>
<g id="e51" class="mg"><circle cx="383" cy="784" r="28.5"/><text x="383" y="784">51</text></g>
<g id="e52" class="rd"><circle cx="316" cy="836" r="28.5"/><text x="316" y="836">52</text></g>
<g id="e53" class="rd"><circle cx="185" cy="802" r="28.5"/><text x="185" y="802">53</text></g>
<g id="e54" class="rd"><circle cx="242" cy="865" r="28.5"/><text x="242" y="865">54</text></g>
<g id="e55" class="rd"><circle cx="264" cy="777" r="28.5"/><text x="264" y="777">55</text></g>
<g id="e56" class="gy"><circle cx="261" cy="540" r="28.5"/><text x="261" y="540">56</text></g>
<g id="e57" class="sl"><circle cx="209" cy="597" r="28.5"/><text x="209" y="597">57</text></g>
<g id="e58" class="ol"><circle cx="191" cy="468" r="28.5"/><text x="191" y="468">58</text></g>
<g id="e59" class="ol"><circle cx="290" cy="446" r="28.5"/><text x="290" y="446">59</text></g>
<g id="e60" class="ol"><circle cx="66" cy="352" r="28.5"/><text x="66" y="352">60</text></g>
<g id="e61" class="ol"><circle cx="106" cy="248" r="28.5"/><text x="106" y="248">61</text></g>
<g id="e62" class="ol"><circle cx="128" cy="410" r="28.5"/><text x="128" y="410">62</text></g>
<g id="e63" class="ol"><circle cx="216" cy="392" r="28.5"/><text x="216" y="392">63</text></g>
<g id="e64" class="ol"><circle cx="145" cy="325" r="28.5"/><text x="145" y="325">64</text></g>
<g id="e65" class="ol"><circle cx="289" cy="348" r="28.5"/><text x="289" y="348">65</text></g>
<g id="e66" class="ol"><circle cx="222" cy="300" r="28.5"/><text x="222" y="300">66</text></g>
<g id="e67" class="ol"><circle cx="195" cy="224" r="28.5"/><text x="195" y="224">67</text></g>
<g id="e68" class="ol"><circle cx="59" cy="443" r="28.5"/><text x="59" y="443">68</text></g>
<g id="e69" class="mg"><circle cx="560" cy="573" r="28.5"/><text x="560" y="573">69</text></g>
<g id="e70" class="mg"><circle cx="503" cy="497" r="28.5"/><text x="503" y="497">70</text></g>
<g id="e71" class="mg"><circle cx="456" cy="565" r="28.5"/><text x="456" y="565">71</text></g>
<g id="e72" class="mg"><circle cx="580" cy="479" r="28.5"/><text x="580" y="479">72</text></g>
<g id="e73" class="mg"><circle cx="541" cy="798" r="28.5"/><text x="541" y="798">73</text></g>
<g id="e74" class="tl"><circle cx="433" cy="255" r="28.5"/><text x="433" y="255">74</text></g>
<g id="e75" class="tl"><circle cx="362" cy="226" r="28.5"/><text x="362" y="226">75</text></g>
<g id="e76" class="mg"><circle cx="439" cy="431" r="28.5"/><text x="439" y="431">76</text></g>
<g id="e77" class="ol"><circle cx="280" cy="251" r="28.5"/><text x="280" y="251">77</text></g>
</g>
<text class="lab" x="725" y="1486">(<tspan font-weight="bold">e</tspan>)</text>
</g>
<g id="panel-f" transform="translate(1527,3094)">
<rect class="bg" x="-20" y="-25" width="1381" height="1387"/>
<g id="connectors-f"><use href="#E"/></g>
<g class="nodes">
<g id="f1" class="cy"><circle cx="1092" cy="623" r="28.5"/><text x="1092" y="623">1</text></g>
<g id="f2" class="cy"><circle cx="1212" cy="739" r="28.5"/><text x="1212" y="739">2</text></g>
<g id="f3" class="gy"><circle cx="963" cy="607" r="28.5"/><text x="963" y="607">3</text></g>
<g id="f4" class="gy"><circle cx="982" cy="685" r="28.5"/><text x="982" y="685">4</text></g>
<g id="f5" class="cy"><circle cx="1175" cy="588" r="28.5"/><text x="1175" y="588">5</text></g>
<g id="f6" class="cy"><circle cx="1286" cy="683" r="28.5"/><text x="1286" y="683">6</text></g>
<g id="f7" class="cy"><circle cx="1176" cy="511" r="28.5"/><text x="1176" y="511">7</text></g>
<g id="f8" class="cy"><circle cx="1249" cy="614" r="28.5"/><text x="1249" y="614">8</text></g>
<g id="f9" class="cy"><circle cx="1257" cy="536" r="28.5"/><text x="1257" y="536">9</text></g>
<g id="f10" class="cy"><circle cx="1168" cy="666" r="28.5"/><text x="1168" y="666">10</text></g>
<g id="f11" class="bk"><circle cx="820" cy="681" r="28.5"/><text x="820" y="681">11</text></g>
<g id="f12" class="bk"><circle cx="660" cy="686" r="28.5"/><text x="660" y="686">12</text></g>
<g id="f13" class="mg"><circle cx="653" cy="895" r="28.5"/><text x="653" y="895">13</text></g>
<g id="f14" class="bk"><circle cx="699" cy="765" r="28.5"/><text x="699" y="765">14</text></g>
<g id="f15" class="bk"><circle cx="723" cy="618" r="28.5"/><text x="723" y="618">15</text></g>
<g id="f16" class="bk"><circle cx="779" cy="755" r="28.5"/><text x="779" y="755">16</text></g>
<g id="f17" class="gy"><circle cx="455" cy="1066" r="28.5"/><text x="455" y="1066">17</text></g>
<g id="f18" class="or"><circle cx="425" cy="1145" r="28.5"/><text x="425" y="1145">18</text></g>
<g id="f19" class="or"><circle cx="434" cy="1235" r="28.5"/><text x="434" y="1235">19</text></g>
<g id="f20" class="or"><circle cx="500" cy="1184" r="28.5"/><text x="500" y="1184">20</text></g>
<g id="f21" class="or"><circle cx="517" cy="1110" r="28.5"/><text x="517" y="1110">21</text></g>
<g id="f22" class="or"><circle cx="579" cy="1182" r="28.5"/><text x="579" y="1182">22</text></g>
<g id="f23" class="or"><circle cx="518" cy="1257" r="28.5"/><text x="518" y="1257">23</text></g>
<g id="f24" class="gy"><circle cx="534" cy="1000" r="28.5"/><text x="534" y="1000">24</text></g>
<g id="f25" class="mg"><circle cx="505" cy="723" r="28.5"/><text x="505" y="723">25</text></g>
<g id="f26" class="mg"><circle cx="477" cy="648" r="28.5"/><text x="477" y="648">26</text></g>
<g id="f27" class="mg"><circle cx="461" cy="800" r="28.5"/><text x="461" y="800">27</text></g>
<g id="f28" class="mg"><circle cx="563" cy="659" r="28.5"/><text x="563" y="659">28</text></g>
<g id="f29" class="bk"><circle cx="741" cy="545" r="28.5"/><text x="741" y="545">29</text></g>
<g id="f30" class="gy"><circle cx="736" cy="854" r="28.5"/><text x="736" y="854">30</text></g>
<g id="f31" class="mg"><circle cx="624" cy="981" r="28.5"/><text x="624" y="981">31</text></g>
<g id="f32" class="mg"><circle cx="586" cy="860" r="28.5"/><text x="586" y="860">32</text></g>
<g id="f33" class="bk"><circle cx="741" cy="692" r="28.5"/><text x="741" y="692">33</text></g>
<g id="f34" class="mg"><circle cx="638" cy="608" r="28.5"/><text x="638" y="608">34</text></g>
<g id="f35" class="sl"><circle cx="872" cy="752" r="28.5"/><text x="872" y="752">35</text></g>
<g id="f36" class="sl"><circle cx="912" cy="880" r="28.5"/><text x="912" y="880">36</text></g>
<g id="f37" class="sl"><circle cx="829" cy="917" r="28.5"/><text x="829" y="917">37</text></g>
<g id="f38" class="sl"><circle cx="931" cy="805" r="28.5"/><text x="931" y="805">38</text></g>
<g id="f39" class="sl"><circle cx="831" cy="827" r="28.5"/><text x="831" y="827">39</text></g>
<g id="f40" class="rd"><circle cx="253" cy="677" r="28.5"/><text x="253" y="677">40</text></g>
<g id="f41" class="mg"><circle cx="411" cy="700" r="28.5"/><text x="411" y="700">41</text></g>
<g id="f42" class="mg"><circle cx="390" cy="515" r="28.5"/><text x="390" y="515">42</text></g>
<g id="f43" class="mg"><circle cx="380" cy="602" r="28.5"/><text x="380" y="602">43</text></g>
<g id="f44" class="mg"><circle cx="601" cy="733" r="28.5"/><text x="601" y="733">44</text></g>
<g id="f45" class="bk"><circle cx="805" cy="603" r="28.5"/><text x="805" y="603">45</text></g>
<g id="f46" class="bk"><circle cx="846" cy="528" r="28.5"/><text x="846" y="528">46</text></g>
<g id="f47" class="tl"><circle cx="397" cy="62" r="28.5"/><text x="397" y="62">47</text></g>
<g id="f48" class="tl"><circle cx="388" cy="140" r="28.5"/><text x="388" y="140">48</text></g>
<g id="f49" class="tl"><circle cx="359" cy="379" r="28.5"/><text x="359" y="379">49</text></g>
<g id="f50" class="rd"><circle cx="331" cy="710" r="28.5"/><text x="331" y="710">50</text></g>
<g id="f51" class="mg"><circle cx="383" cy="784" r="28.5"/><text x="383" y="784">51</text></g>
<g id="f52" class="rd"><circle cx="316" cy="836" r="28.5"/><text x="316" y="836">52</text></g>
<g id="f53" class="rd"><circle cx="185" cy="802" r="28.5"/><text x="185" y="802">53</text></g>
<g id="f54" class="rd"><circle cx="242" cy="865" r="28.5"/><text x="242" y="865">54</text></g>
<g id="f55" class="rd"><circle cx="264" cy="777" r="28.5"/><text x="264" y="777">55</text></g>
<g id="f56" class="gy"><circle cx="261" cy="540" r="28.5"/><text x="261" y="540">56</text></g>
<g id="f57" class="gy"><circle cx="209" cy="597" r="28.5"/><text x="209" y="597">57</text></g>
<g id="f58" class="gn"><circle cx="191" cy="468" r="28.5"/><text x="191" y="468">58</text></g>
<g id="f59" class="gn"><circle cx="290" cy="446" r="28.5"/><text x="290" y="446">59</text></g>
<g id="f60" class="gn"><circle cx="66" cy="352" r="28.5"/><text x="66" y="352">60</text></g>
<g id="f61" class="gn"><circle cx="106" cy="248" r="28.5"/><text x="106" y="248">61</text></g>
<g id="f62" class="gn"><circle cx="128" cy="410" r="28.5"/><text x="128" y="410">62</text></g>
<g id="f63" class="gn"><circle cx="216" cy="392" r="28.5"/><text x="216" y="392">63</text></g>
<g id="f64" class="gn"><circle cx="145" cy="325" r="28.5"/><text x="145" y="325">64</text></g>
<g id="f65" class="gn"><circle cx="289" cy="348" r="28.5"/><text x="289" y="348">65</text></g>
<g id="f66" class="gn"><circle cx="222" cy="300" r="28.5"/><text x="222" y="300">66</text></g>
<g id="f67" class="gn"><circle cx="195" cy="224" r="28.5"/><text x="195" y="224">67</text></g>
<g id="f68" class="gn"><circle cx="59" cy="443" r="28.5"/><text x="59" y="443">68</text></g>
<g id="f69" class="mg"><circle cx="560" cy="573" r="28.5"/><text x="560" y="573">69</text></g>
<g id="f70" class="mg"><circle cx="503" cy="497" r="28.5"/><text x="503" y="497">70</text></g>
<g id="f71" class="mg"><circle cx="456" cy="565" r="28.5"/><text x="456" y="565">71</text></g>
<g id="f72" class="mg"><circle cx="580" cy="479" r="28.5"/><text x="580" y="479">72</text></g>
<g id="f73" class="mg"><circle cx="541" cy="798" r="28.5"/><text x="541" y="798">73</text></g>
<g id="f74" class="tl"><circle cx="433" cy="255" r="28.5"/><text x="433" y="255">74</text></g>
<g id="f75" class="tl"><circle cx="362" cy="226" r="28.5"/><text x="362" y="226">75</text></g>
<g id="f76" class="mg"><circle cx="439" cy="431" r="28.5"/><text x="439" y="431">76</text></g>
<g id="f77" class="gn"><circle cx="280" cy="251" r="28.5"/><text x="280" y="251">77</text></g>
</g>
<text class="lab" x="725" y="1486">(<tspan font-weight="bold">f</tspan>)</text>
</g>
</g>
</svg>
